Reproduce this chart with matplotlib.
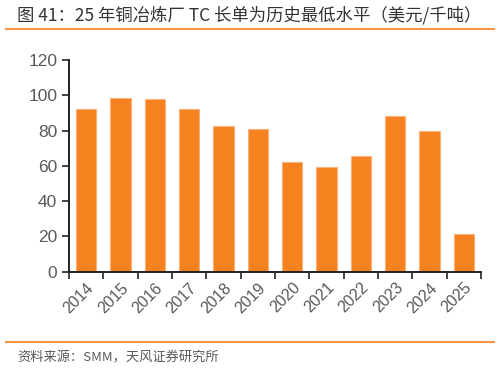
import matplotlib
matplotlib.use("Agg")
import matplotlib.pyplot as plt
from matplotlib.lines import Line2D

plt.rcParams['font.family'] = ['Noto Sans CJK SC', 'DejaVu Sans']

# TC long-term benchmark, USD/t
years = ["2014", "2015", "2016", "2017", "2018", "2019",
         "2020", "2021", "2022", "2023", "2024", "2025"]
tc = [92.5, 98.5, 97.7, 92.5, 82.4, 80.7, 62.0, 59.3, 65.4, 88.3, 79.8, 21.2]

title = "图 41：25 年铜冶炼厂 TC 长单为历史最低水平（美元/千吨）"
source = "资料来源：SMM，天风证券研究所"

fig = plt.figure(figsize=(4.99, 3.72), dpi=100)
ax = fig.add_axes([0.1383, 0.2696, 0.8257, 0.5691])

x = list(range(len(years)))
ax.bar(x, tc, width=0.6, color="#F5821F", edgecolor="#F9B27C", linewidth=0.8)

ax.set_xlim(-0.5, len(years) - 0.5)
ax.set_ylim(0, 120)
ax.set_yticks(range(0, 121, 20))
ax.set_xticks([i - 0.5 for i in range(len(years) + 1)], minor=False)
ax.set_xticklabels([])
ax.set_xticks(x, minor=True)
ax.set_xticklabels(years, minor=True, rotation=45, ha="right", va="top",
                   rotation_mode="anchor", family=["Liberation Sans", "DejaVu Sans"],
                   fontsize=11.5, color="#595959")
ax.tick_params(axis="x", which="minor", length=0, pad=6)
ax.tick_params(axis="x", which="major", length=5, width=1.2, color="#222222")
ax.tick_params(axis="y", length=5, width=1.2, color="#222222", labelsize=12.5,
               labelcolor="#595959")
for lab in ax.get_yticklabels():
    lab.set_family(["Liberation Sans", "DejaVu Sans"])

for s in ["top", "right"]:
    ax.spines[s].set_visible(False)
for s in ["left", "bottom"]:
    ax.spines[s].set_linewidth(1.4)
    ax.spines[s].set_color("#222222")

fig.text(0.034, 0.96, title, fontsize=12.5, color="#333333", va="center", ha="left",
         weight="medium")
fig.add_artist(Line2D([0.012, 0.99], [1 - 29 / 372] * 2, color="#F79646", linewidth=1.5))
fig.add_artist(Line2D([0.012, 0.99], [1 - 342 / 372] * 2, color="#F79646", linewidth=1.5))
fig.text(0.034, 1 - 358 / 372, source, fontsize=9.5, color="#595959", va="center", ha="left")

fig.savefig("out.png", dpi=100)
